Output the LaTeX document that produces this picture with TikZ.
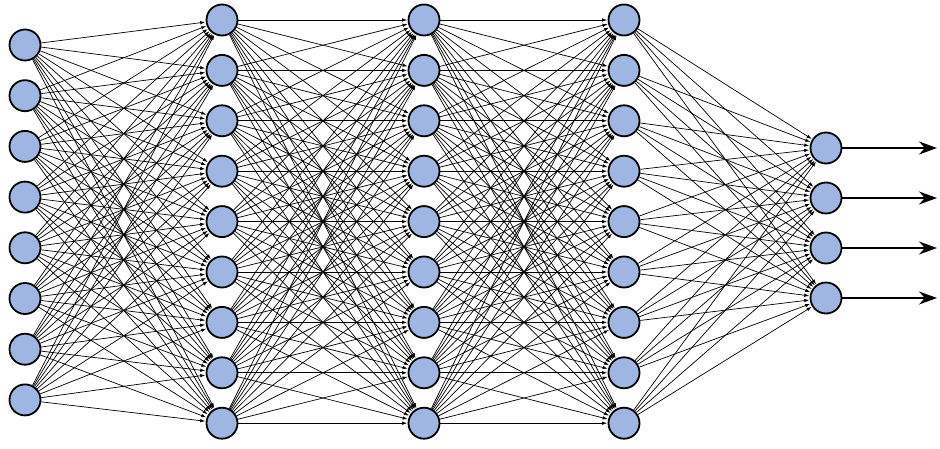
\documentclass[tikz,border=0pt]{standalone}
\usepackage{tikz}
\usetikzlibrary{arrows}
\usetikzlibrary{positioning,shapes,arrows.meta}

\definecolor{unitblue}{RGB}{160,182,226}
\tikzset{
  unit/.style={circle,draw=black,fill=unitblue,line width=1.8pt,minimum size=31pt,inner sep=0pt},
  wire/.style={line width=0.7pt,shorten >=0.5pt},
  outwire/.style={line width=1.5pt}
}

\begin{document}
\begin{tikzpicture}[x=1pt,y=-1pt]
\useasboundingbox (0,0) rectangle (940,449);
% input layer
\foreach \i in {1,...,8}
  \node[unit] (I\i) at (25,{45+(\i-1)*50.7}) {};
% hidden layers
\foreach \l/\x in {1/222,2/424,3/624}
  \foreach \i in {1,...,9}
    \node[unit] (H\l-\i) at (\x,{20+(\i-1)*50.4}) {};
% output layer
\foreach \i in {1,...,4}
  \node[unit] (O\i) at (826,{148+(\i-1)*50}) {};
\coordinate (E1) at (937,148);
\coordinate (E2) at (937,198);
\coordinate (E3) at (937,248);
\coordinate (E4) at (937,298);
%
{
\pgfsetarrows{-{Latex[length=5pt,width=3.5pt]}}
\foreach \i in {1,...,8}
  \foreach \j in {1,...,9}
    \path (I\i) edge[wire] (H1-\j);
\foreach \i in {1,...,9}
  \foreach \j in {1,...,9}
    \path (H1-\i) edge[wire] (H2-\j)
          (H2-\i) edge[wire] (H3-\j);
\foreach \i in {1,...,9}
  \foreach \j in {1,...,4}
    \path (H3-\i) edge[wire] (O\j);
%
\pgfsetarrows{-{Stealth[length=18pt,width=13pt]}}
\foreach \i in {1,...,4}
  \path (O\i) edge[outwire] (E\i);
}
\end{tikzpicture}
\end{document}
